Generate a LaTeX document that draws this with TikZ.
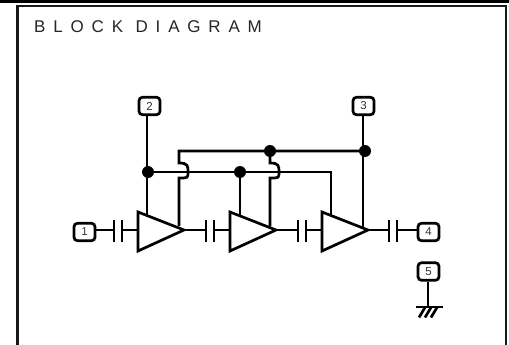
\documentclass[tikz,border=0pt]{standalone}
\usepackage{fontspec}
\setmainfont{Liberation Sans}
\tikzset{
  wire/.style={line width=2.7pt,black,line cap=butt,line join=miter},
  pin/.style={draw=black,line width=2.7pt,rounded corners=3.5pt,minimum width=21pt,minimum height=17.5pt,inner sep=0pt,fill=white,text=black!80,font=\fontsize{11.5}{11.5}\selectfont},
  dot/.style={circle,fill=black,inner sep=0pt,minimum size=12pt}
}
\begin{document}
\begin{tikzpicture}[x=1pt,y=-1pt]
\useasboundingbox (0,0) rectangle (509,345);
% frame
\fill[black] (0,0) rectangle (509,3.5);
\draw[line width=2.6pt,black!90] (17.2,345) -- (17.2,6) -- (506,6) -- (506,345);
\node[anchor=base west,inner sep=0pt,font=\fontsize{17}{17}\selectfont\addfontfeature{LetterSpace=46},text=black!85] (title) at (34,33) {BLOCK DIAGRAM};
% pins
\node[pin] (p1) at (84.5,232) {1};
\node[pin] (p2) at (149.5,106) {2};
\node[pin] (p3) at (363.5,106) {3};
\node[pin] (p4) at (428.5,232) {4};
\node[pin] (p5) at (428.5,271.5) {5};
% amplifier and capacitor coordinates
\foreach \n/\x in {a/138,b/230,c/322}{
  \coordinate (\n L) at (\x,230);
  \coordinate (\n T) at (\x,212);
  \coordinate (\n B) at (\x,251);
  \coordinate (\n R) at (\x+46,230);
  \draw[wire,line join=miter] (\n T) -- (\n R) -- (\n B) -- cycle;
}
\foreach \n/\x in {c1/114,c2/206,c3/298,c4/389}{
  \coordinate (\n L) at (\x,230);
  \coordinate (\n R) at (\x+8,230);
  \draw[wire] (\x,220) -- (\x,242);
  \draw[wire] (\x+8,220) -- (\x+8,242);
}
% signal chain
\draw[wire] (p1.east |- c1L) -- (c1L);
\draw[wire] (c1R) -- (aL);
\draw[wire] (aR) -- (c2L);
\draw[wire] (c2R) -- (bL);
\draw[wire] (bR) -- (c3L);
\draw[wire] (c3R) -- (cL);
\draw[wire] (cR) -- (c4L);
\draw[wire] (c4R) -- (p4.west |- c4R);
% junctions
\node[dot] (j1) at (148,172) {};
\node[dot] (j2) at (240,172) {};
\node[dot] (j3) at (270,151) {};
\node[dot] (j4) at (365,151) {};
% lower bus
\draw[wire] (147,115) -- (147,216.5);
\draw[wire] (j1.center) -- (331,172) -- (331,215.5);
\draw[wire] (j2.center) -- (240,216);
% upper bus with hops
\draw[wire] (363,115) -- (363,229);
\draw[wire] (j4.center) -- (179,151) -- (179,163)
  .. controls (188,163) and (188,166) .. (188,172)
  .. controls (188,178) and (188,178) .. (179,178) -- (179,226);
\draw[wire] (j3.center) -- (270,163)
  .. controls (279,163) and (279,166) .. (279,172)
  .. controls (279,178) and (279,178) .. (270,178) -- (270,226);
% ground
\coordinate (g) at (428,307);
\draw[wire] (p5.south -| g) -- (g);
\draw[wire] (416,307) -- (443,307);
\draw[wire] (425,307.5) -- (419,317.5);
\draw[wire] (431,307.5) -- (425,317.5);
\draw[wire] (437,307.5) -- (431,317.5);
\end{tikzpicture}
\end{document}
